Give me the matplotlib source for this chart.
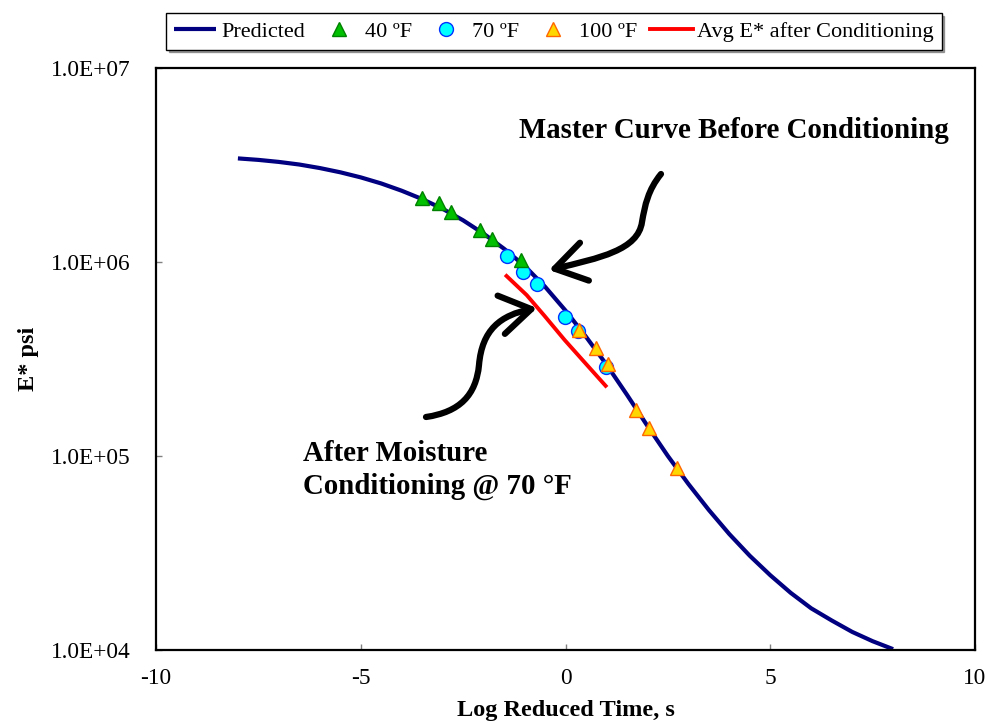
import matplotlib
matplotlib.use("Agg")
import matplotlib.pyplot as plt
from matplotlib.path import Path
from matplotlib.patches import FancyArrowPatch
from matplotlib.ticker import FuncFormatter, FixedLocator, NullLocator

plt.rcParams['font.family'] = ['Liberation Serif', 'DejaVu Serif']

# ---- data ----
pred_x = [-8.0, -7.5, -7.0, -6.5, -6.0, -5.5, -5.0, -4.5, -4.0, -3.5, -3.0, -2.5,
          -2.0, -1.5, -1.0, -0.5, 0.0, 0.5, 1.0, 1.5, 2.0, 2.5, 3.0, 3.5, 4.0,
          4.5, 5.0, 5.5, 6.0, 6.5, 7.0, 7.5, 8.0]
pred_E = [3.42e6, 3.36e6, 3.28e6, 3.18e6, 3.05e6, 2.90e6, 2.73e6, 2.54e6, 2.33e6,
          2.11e6, 1.88e6, 1.64e6, 1.40e6, 1.17e6, 9.55e5, 7.46e5, 5.62e5, 4.12e5,
          2.96e5, 2.07e5, 1.43e5, 1.00e5, 7.18e4, 5.27e4, 3.96e4, 3.06e4, 2.43e4,
          1.97e4, 1.64e4, 1.42e4, 1.24e4, 1.11e4, 1.01e4]

t40_x = [-3.50, -3.09, -2.79, -2.10, -1.79, -1.08]
t40_E = [2.13e6, 2.01e6, 1.82e6, 1.46e6, 1.31e6, 1.03e6]

t70_x = [-1.42, -1.03, -0.70, -0.01, 0.30, 0.99]
t70_E = [1.07e6, 8.9e5, 7.67e5, 5.22e5, 4.43e5, 2.89e5]

t100_x = [0.34, 0.75, 1.05, 1.73, 2.03, 2.73]
t100_E = [4.46e5, 3.59e5, 2.97e5, 1.73e5, 1.40e5, 8.7e4]

avg_x = [-1.44, -0.95, -0.51, -0.02, 0.46, 0.98]
avg_E = [8.47e5, 6.76e5, 5.27e5, 3.96e5, 3.05e5, 2.30e5]

x_ticks = [-10, -5, 0, 5, 10]
y_ticks = [1e4, 1e5, 1e6, 1e7]

W, H = 989, 723
fig = plt.figure(figsize=(W / 100, H / 100), dpi=100)
ax = fig.add_axes([156 / W, 1 - 650 / H, (975 - 156) / W, (650 - 68) / H])

ax.plot(pred_x, pred_E, color='#000080', lw=3.0, label='Predicted', zorder=2,
        solid_capstyle='butt', solid_joinstyle='round')
ax.plot(t40_x, t40_E, ls='none', marker='^', ms=10, mfc='#00c000', mec='#008000',
        mew=1.0, label='40 ºF', zorder=4)
ax.plot(t70_x, t70_E, ls='none', marker='o', ms=10, mfc='#00ffff', mec='#0033ff',
        mew=1.0, label='70 ºF', zorder=3)
ax.plot(t100_x, t100_E, ls='none', marker='^', ms=10, mfc='#ffd700', mec='#ff6600',
        mew=1.0, label='100 ºF', zorder=5)
ax.plot(avg_x, avg_E, color='#ff0000', lw=2.8, label='Avg E* after Conditioning',
        zorder=2, solid_joinstyle='round')

ax.set_yscale('log')
ax.set_xlim(-10, 10)
ax.set_ylim(1e4, 1e7)
ax.xaxis.set_major_locator(FixedLocator(x_ticks))
ax.yaxis.set_major_locator(FixedLocator(y_ticks))
ax.yaxis.set_minor_locator(NullLocator())
ax.xaxis.set_minor_locator(NullLocator())
ax.yaxis.set_major_formatter(FuncFormatter(lambda v, p: f"{v:.1E}"))
ax.xaxis.set_major_formatter(FuncFormatter(lambda v, p: f"{v:g}"))
ax.tick_params(axis='both', direction='in', length=4, width=1, color='#808080',
               labelsize=16.8)
ax.tick_params(axis='x', pad=13)
ax.tick_params(axis='y', pad=18)
for s in ax.spines.values():
    s.set_linewidth(1.6)
    s.set_color('black')

ax.set_xlabel('Log Reduced Time, s', fontsize=17.5, fontweight='bold', labelpad=8)
ax.set_ylabel('E* psi', fontsize=17.5, fontweight='bold', labelpad=9)

# annotations
fig.text(519 / W, 1 - 130 / H, 'Master Curve Before Conditioning', fontsize=20.8,
         fontweight='bold', ha='left', va='center')
fig.text(303 / W, 1 - 470 / H, 'After Moisture\nConditioning @ 70 °F', fontsize=20.8,
         fontweight='bold', ha='left', va='center', linespacing=1.3)


def px(x, y):
    return (x / W, 1 - y / H)


arrow_specs = [
    [(661, 174), (648, 190), (645, 205), (642, 222), (638, 250), (600, 258), (549, 270)],
    [(426, 417), (460, 412), (476, 395), (479, 365), (482, 330), (500, 315), (537, 308)],
]
for pts in arrow_specs:
    verts = [px(*p) for p in pts]
    codes = [Path.MOVETO] + [Path.CURVE4] * 6
    arr = FancyArrowPatch(path=Path(verts, codes), transform=fig.transFigure,
                          arrowstyle='->,head_length=1.1,head_width=0.7',
                          mutation_scale=20, lw=4.5, color='black',
                          capstyle='round', joinstyle='round')
    fig.add_artist(arr)

leg = fig.legend(loc='center', bbox_to_anchor=(554 / W, 1 - 31.5 / H), ncol=5,
                 fontsize=16, frameon=True, fancybox=False, shadow=True,
                 handlelength=1.9, columnspacing=0.6, handletextpad=0.2,
                 borderpad=0.35)
leg.get_frame().set_edgecolor('black')
leg.get_frame().set_linewidth(1.0)

fig.savefig('out.png', dpi=100)
